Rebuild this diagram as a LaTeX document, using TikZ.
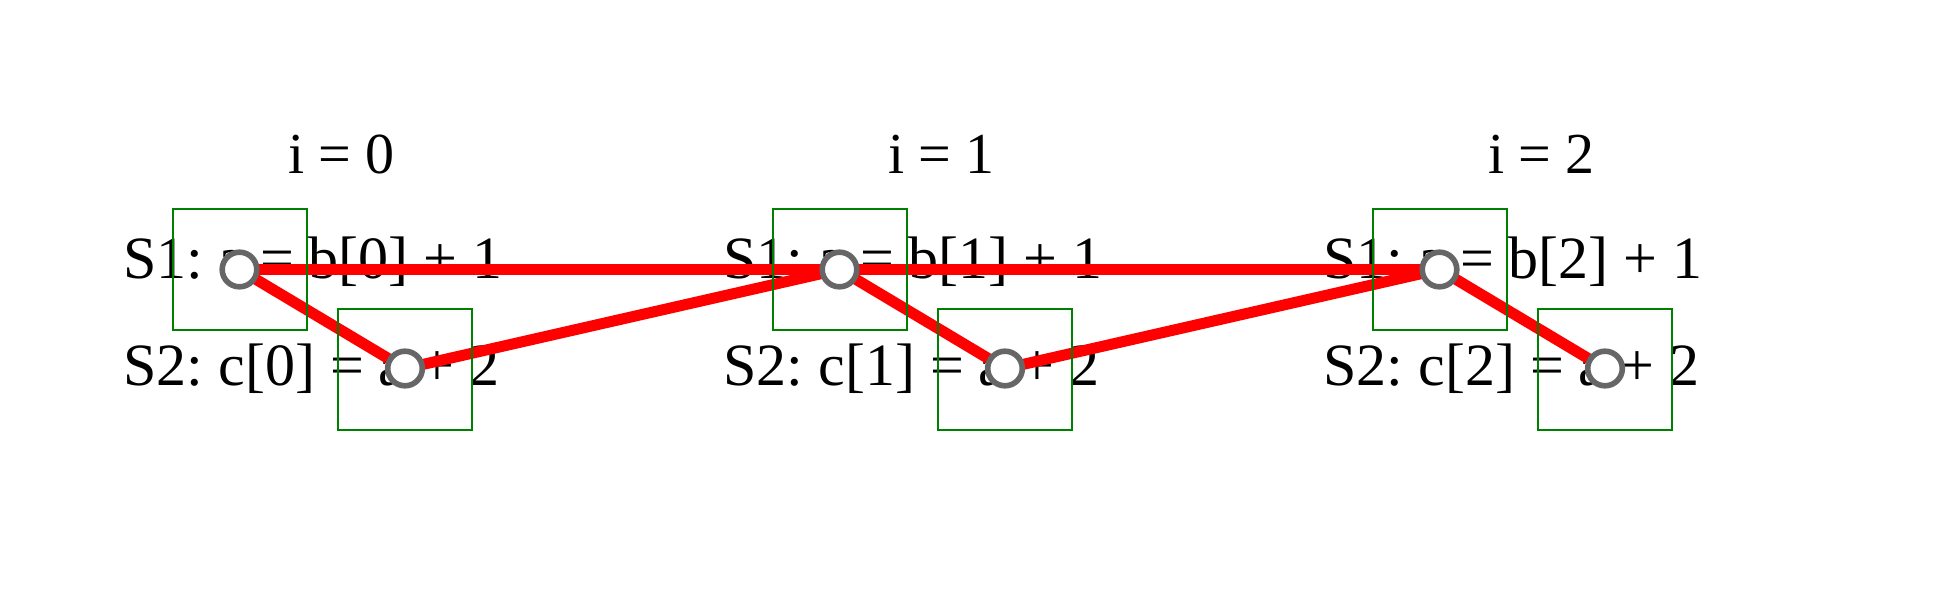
\documentclass[tikz,border=0pt]{standalone}
\usepackage{fontspec}
\setmainfont{Liberation Serif}
\definecolor{boxgreen}{RGB}{0,128,0}
\definecolor{ringgray}{RGB}{102,102,102}
\frenchspacing
\begin{document}
\begin{tikzpicture}[x=0.5pt,y=-0.5pt,
  stmt/.style={anchor=base west, inner sep=0pt, font=\fontsize{30}{36}\selectfont},
  ttl/.style={anchor=base, inner sep=0pt, font=\fontsize{29}{34}\selectfont},
  itbox/.style={draw=boxgreen, line width=1pt, minimum width=67pt, minimum height=60.5pt, inner sep=0pt},
  dep/.style={draw=red, line width=5.5pt},
  instpt/.style={circle, draw=ringgray, fill=white, line width=2.8pt, minimum size=17.3pt, inner sep=0pt}]
\useasboundingbox (0,0) rectangle (1950,600);
\foreach \i in {0,1,2}{
  \pgfmathsetmacro{\dx}{600*\i}
  \node[ttl] (t\i) at (341.5+\dx,173) {i = \i};
  \node[stmt] (sa\i) at (123+\dx,278) {S1: a = b[\i] + 1};
  \node[stmt] (sb\i) at (123+\dx,385) {S2: c[\i] = a + 2};
  \coordinate (p\i) at (239.5+\dx,269.5);
  \coordinate (q\i) at (405+\dx,368.5);
}
\foreach \i in {0,1,2}{
  \draw[dep] (p\i) -- (q\i);
}
\foreach \i/\j in {0/1,1/2}{
  \draw[dep] (p\i) -- (p\j);
  \draw[dep] (q\i) -- (p\j);
}
\foreach \i in {0,1,2}{
  \pgfmathsetmacro{\dx}{600*\i}
  \node[itbox] (ba\i) at (240+\dx,269.5) {};
  \node[itbox] (bb\i) at (405+\dx,369) {};
  \node[instpt] (n\i) at (p\i) {};
  \node[instpt] (m\i) at (q\i) {};
}
\end{tikzpicture}
\end{document}
